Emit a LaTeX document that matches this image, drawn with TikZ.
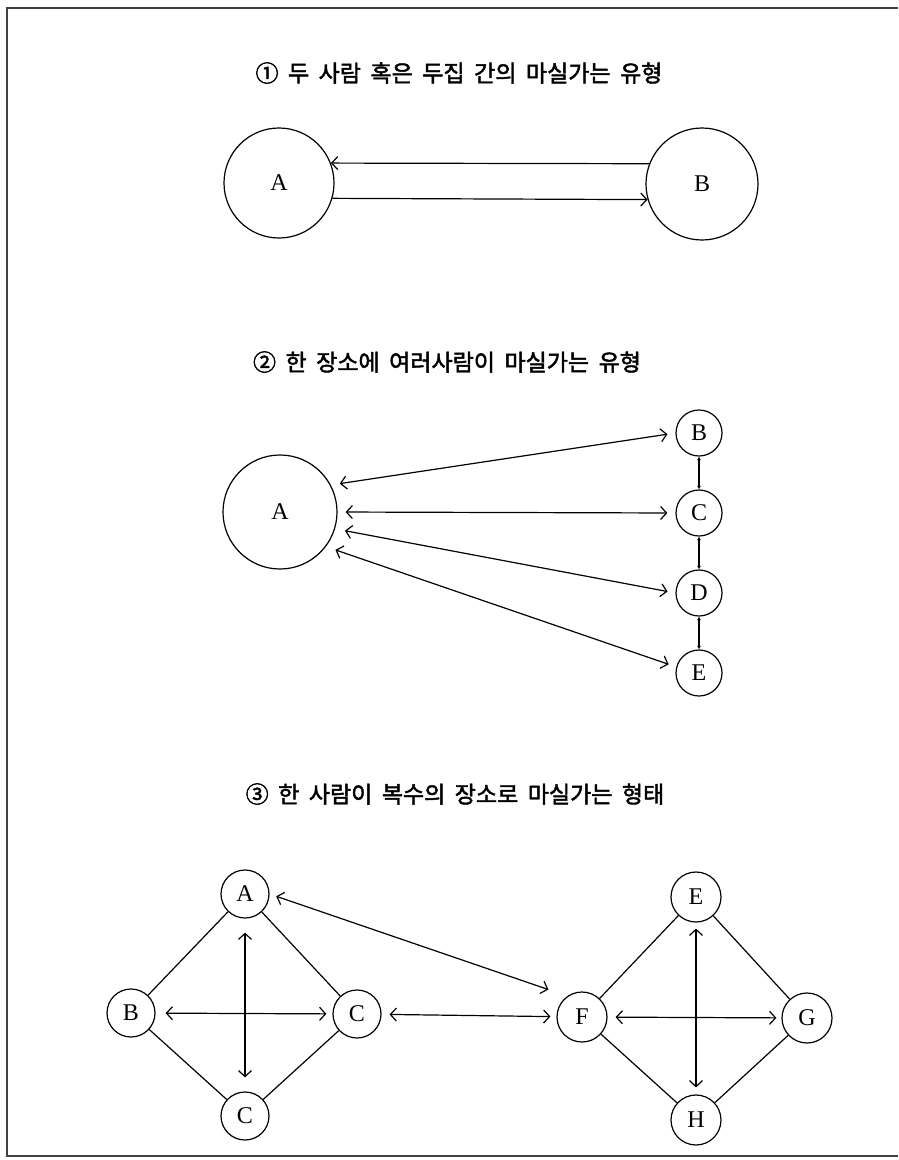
\documentclass[tikz,border=0pt]{standalone}
\usepackage{fontspec}
\setmainfont{Liberation Serif}
\newfontfamily\kr[FakeBold=2]{Noto Sans CJK KR}
\usetikzlibrary{arrows.meta}
\newcommand\kttl[1]{{\kr\fontsize{23}{27}\selectfont\spaceskip=9.5pt\relax #1}}
\begin{document}
\begin{tikzpicture}[x=1pt,y=-1pt,
  circ/.style={circle,draw,line width=1.2pt,inner sep=0pt,minimum size=#1,font=\fontsize{24}{24}\selectfont},
  title/.style={inner sep=0pt},
  dbl/.style={line width=1.2pt,{Straight Barb[length=6pt,width=13pt]}-{Straight Barb[length=6pt,width=13pt]}},
  one/.style={line width=1.2pt,-{Straight Barb[length=6pt,width=13pt]}},
  plain/.style={line width=1.2pt},
  tiny/.style={line width=1.4pt,{Latex[length=3.5pt,width=4pt]}-{Latex[length=3.5pt,width=4pt]}}
]
\useasboundingbox (0,0) rectangle (898,1160);
\draw[line width=1.8pt,draw=black!75] (898,8) -- (7,8) -- (7,1156) -- (898,1156);

% titles
\node[title] (t1) at (459,73) {\kttl{① 두 사람 혹은 두집 간의 마실가는 유형}};
\node[title] (t2) at (447,362) {\kttl{② 한 장소에 여러사람이 마실가는 유형}};
\node[title] (t3) at (455,794) {\kttl{③ 한 사람이 복수의 장소로 마실가는 형태}};

% section 1
\node[circ=110pt] (A1) at (279,183) {A};
\node[circ=112pt] (B1) at (702,184) {B};
\draw[one] (B1.159) -- (A1.21);
\draw[one] (A1.-16) -- (B1.196);

% section 2
\node[circ=114pt] (A2) at (280,512) {A};
\node[circ=46pt] (B2) at (699,433) {B};
\node[circ=46pt] (C2) at (699,513) {C};
\node[circ=46pt] (D2) at (699,593) {D};
\node[circ=46pt] (E2) at (699,673) {E};
\draw[dbl,shorten <=9pt,shorten >=8pt] (A2.28) -- (B2.180);
\draw[dbl,shorten <=8pt,shorten >=8pt] (A2.0) -- (C2.180);
\draw[dbl,shorten <=10pt,shorten >=8pt] (A2.-17) -- (D2.180);
\draw[dbl,shorten <=10pt,shorten >=8pt] (A2.-37) -- (E2.165);
\draw[tiny] (B2) -- (C2);
\draw[tiny] (C2) -- (D2);
\draw[tiny] (D2) -- (E2);

% section 3 left
\node[circ=48pt] (A3) at (245,894) {A};
\node[circ=48pt] (B3) at (131,1013) {B};
\node[circ=48pt] (C3) at (357,1014) {C};
\node[circ=48pt] (D3) at (245,1116) {C};
\draw[plain] (A3) -- (B3);
\draw[plain] (A3) -- (C3);
\draw[plain] (B3) -- (D3);
\draw[plain] (C3) -- (D3);
\draw[dbl,shorten <=14pt,shorten >=14pt] (A3) -- (D3);
\draw[dbl,shorten <=10pt,shorten >=6pt] (B3) -- (C3);

% section 3 right
\node[circ=50pt] (E3) at (696,897) {E};
\node[circ=50pt] (F3) at (582,1017) {F};
\node[circ=50pt] (G3) at (807,1018) {G};
\node[circ=50pt] (H3) at (696,1120) {H};
\draw[plain] (E3) -- (F3);
\draw[plain] (E3) -- (G3);
\draw[plain] (F3) -- (H3);
\draw[plain] (G3) -- (H3);
\draw[dbl,shorten <=6pt,shorten >=7pt] (E3) -- (H3);
\draw[dbl,shorten <=8pt,shorten >=5pt] (F3) -- (G3);

% between
\draw[dbl,shorten <=8pt,shorten >=6pt] (C3) -- (F3);
\draw[dbl,shorten <=7pt,shorten >=20pt] (A3.0) -- (F3.125);
\end{tikzpicture}
\end{document}
